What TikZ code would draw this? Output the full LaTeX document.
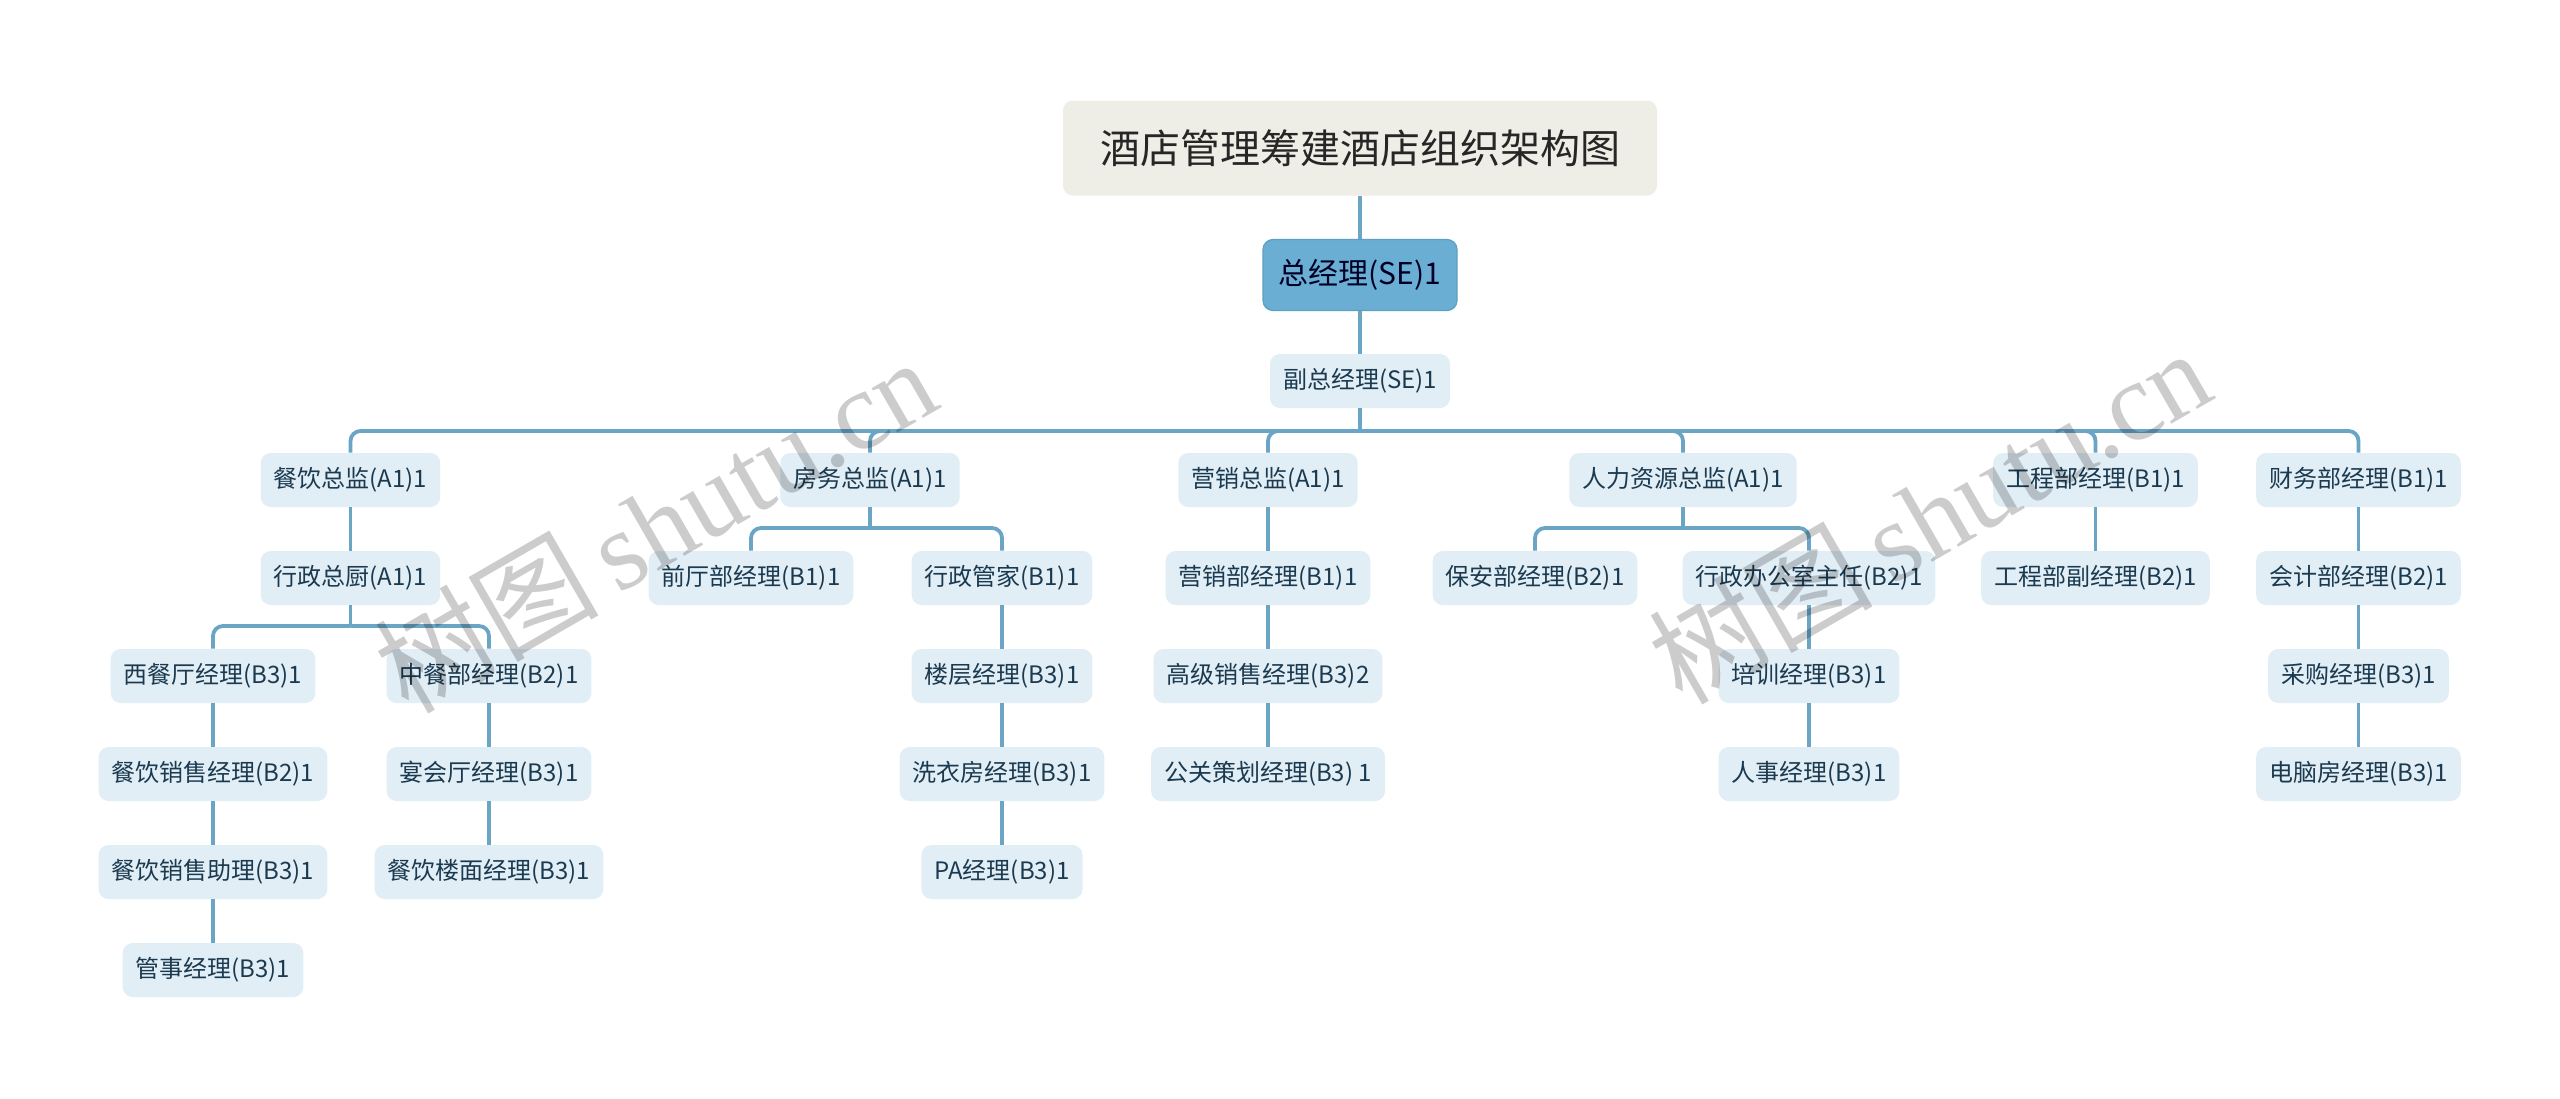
\documentclass[tikz,border=0pt]{standalone}
\usepackage{fontspec}
\setmainfont{Noto Sans CJK SC}
\newfontfamily\wmlatin{Liberation Serif}
\definecolor{linec}{HTML}{6AA5C5}
\definecolor{boxfill}{HTML}{E1EEF6}
\definecolor{txt}{HTML}{1B3A50}
\definecolor{rootfill}{HTML}{6AAFD3}
\definecolor{rootdraw}{HTML}{5C9FC4}
\definecolor{titlefill}{HTML}{EFEEE6}
\begin{document}
\begin{tikzpicture}[x=0.5pt,y=-0.5pt,
  box/.style={rounded corners=5pt, fill=boxfill, text=txt, font=\fontsize{12}{14}\selectfont,
    minimum height=27pt, inner xsep=6.5pt, inner ysep=0pt},
  rootbox/.style={rounded corners=5pt, fill=rootfill, draw=rootdraw, line width=0.6pt, text=black!85!blue,
    font=\fontsize{15}{18}\selectfont, minimum height=35.5pt, minimum width=97pt},
  titlebox/.style={rounded corners=5pt, fill=titlefill, text=black!85,
    font=\fontsize{20}{24}\selectfont, minimum height=47.5pt, minimum width=297pt},
  conn/.style={draw=linec, line width=1.9pt, rounded corners=5pt},
  wm/.style={text=black, opacity=0.2, rotate=30, font=\fontsize{56}{60}\selectfont}]
\useasboundingbox (0,0) rectangle (2560,1098);
\fill[white] (0,0) rectangle (2560,1098);

% top
\node[titlebox] (title) at (1360,148) {酒店管理筹建酒店组织架构图};
\node[rootbox] (root) at (1360,275) {总经理(SE)1};
\node[box] (vp) at (1360,381) {副总经理(SE)1};

% level 1
\node[box] (cy) at (350.5,480) {餐饮总监(A1)1};
\node[box] (fw) at (870,480) {房务总监(A1)1};
\node[box] (yx) at (1268,480) {营销总监(A1)1};
\node[box] (rl) at (1683,480) {人力资源总监(A1)1};
\node[box] (gc) at (2095.5,480) {工程部经理(B1)1};
\node[box] (cw) at (2358.5,480) {财务部经理(B1)1};

% 餐饮
\node[box] (zc) at (350.5,578) {行政总厨(A1)1};
\node[box] (xc) at (213,676) {西餐厅经理(B3)1};
\node[box] (zcb) at (489,676) {中餐部经理(B2)1};
\node[box] (cxj) at (213,774) {餐饮销售经理(B2)1};
\node[box] (cxz) at (213,872) {餐饮销售助理(B3)1};
\node[box] (gs) at (213,970) {管事经理(B3)1};
\node[box] (yh) at (489,774) {宴会厅经理(B3)1};
\node[box] (lm) at (489,872) {餐饮楼面经理(B3)1};

% 房务
\node[box] (qt) at (751,578) {前厅部经理(B1)1};
\node[box] (xg) at (1002,578) {行政管家(B1)1};
\node[box] (lc) at (1002,676) {楼层经理(B3)1};
\node[box] (xy) at (1002,774) {洗衣房经理(B3)1};
\node[box] (pa) at (1002,872) {PA经理(B3)1};

% 营销
\node[box] (yxb) at (1268,578) {营销部经理(B1)1};
\node[box] (gj) at (1268,676) {高级销售经理(B3)2};
\node[box] (gg) at (1268,774) {公关策划经理(B3) 1};

% 人力资源
\node[box] (ba) at (1535,578) {保安部经理(B2)1};
\node[box] (xb) at (1809,578) {行政办公室主任(B2)1};
\node[box] (px) at (1809,676) {培训经理(B3)1};
\node[box] (rs) at (1809,774) {人事经理(B3)1};

% 工程
\node[box] (gcf) at (2095.5,578) {工程部副经理(B2)1};

% 财务
\node[box] (kj) at (2358.5,578) {会计部经理(B2)1};
\node[box] (cg) at (2358.5,676) {采购经理(B3)1};
\node[box] (dn) at (2358.5,774) {电脑房经理(B3)1};

% junction coordinates
\coordinate (bus) at (1360,431);
\coordinate (jfw) at (870,528);
\coordinate (jzc) at (350.5,626);
\coordinate (jrl) at (1683,528);

% connectors
\draw[conn] (title.south) -- (root.north);
\draw[conn] (root.south) -- (vp.north);
\draw[conn] (vp.south) -- (bus);
\foreach \c in {cy,fw,yx,rl,gc,cw} \draw[conn] (bus) -| (\c.north);

\draw[conn] (cy.south) -- (zc.north);
\draw[conn] (zc.south) -- (jzc);
\draw[conn] (jzc) -| (xc.north);
\draw[conn] (jzc) -| (zcb.north);
\draw[conn] (xc.south) -- (cxj.north);
\draw[conn] (cxj.south) -- (cxz.north);
\draw[conn] (cxz.south) -- (gs.north);
\draw[conn] (zcb.south) -- (yh.north);
\draw[conn] (yh.south) -- (lm.north);

\draw[conn] (fw.south) -- (jfw);
\draw[conn] (jfw) -| (qt.north);
\draw[conn] (jfw) -| (xg.north);
\draw[conn] (xg.south) -- (lc.north);
\draw[conn] (lc.south) -- (xy.north);
\draw[conn] (xy.south) -- (pa.north);

\draw[conn] (yx.south) -- (yxb.north);
\draw[conn] (yxb.south) -- (gj.north);
\draw[conn] (gj.south) -- (gg.north);

\draw[conn] (rl.south) -- (jrl);
\draw[conn] (jrl) -| (ba.north);
\draw[conn] (jrl) -| (xb.north);
\draw[conn] (xb.south) -- (px.north);
\draw[conn] (px.south) -- (rs.north);

\draw[conn] (gc.south) -- (gcf.north);

\draw[conn] (cw.south) -- (kj.north);
\draw[conn] (kj.south) -- (cg.north);
\draw[conn] (cg.south) -- (dn.north);

% watermarks
\node[wm] (wm1) at (655,524) {树图\,{\wmlatin shutu.cn}};
\node[wm] (wm2) at (1929,515) {树图\,{\wmlatin shutu.cn}};
\end{tikzpicture}
\end{document}
